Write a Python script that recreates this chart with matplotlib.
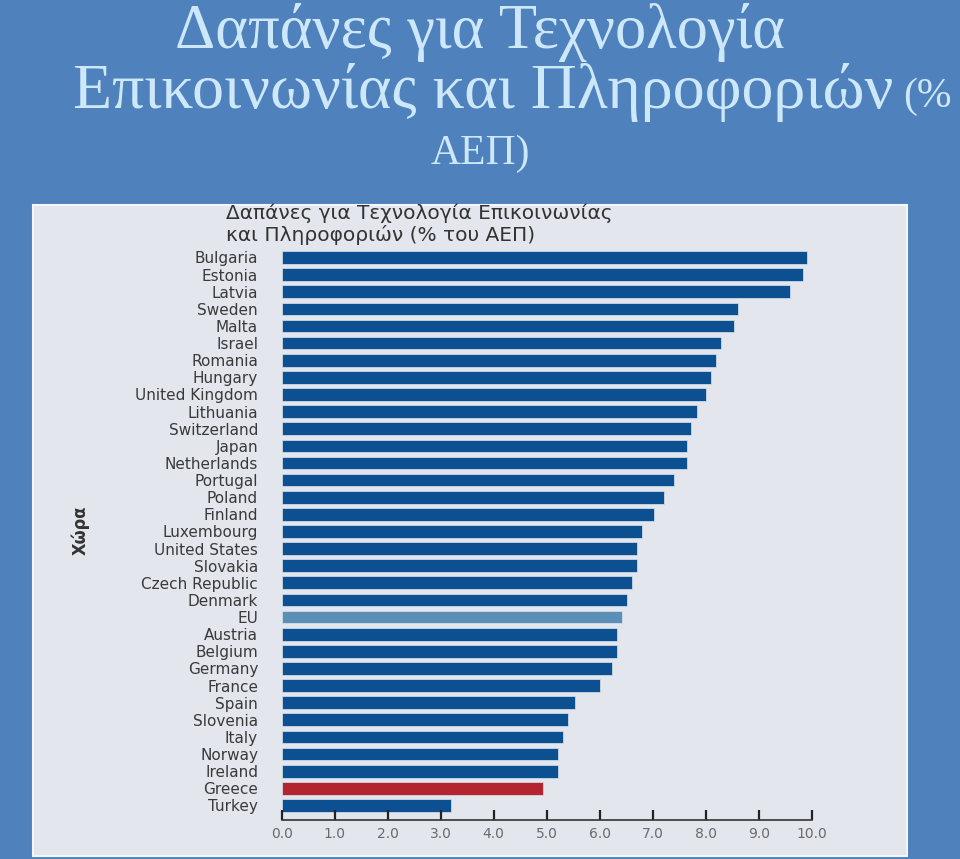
#!/usr/bin/env python3
"""ICT spending as % of GDP, horizontal bar chart on a slide-style background."""

import matplotlib

matplotlib.use("Agg")
import matplotlib.pyplot as plt
from matplotlib.patches import Rectangle

COUNTRIES = [
    "Bulgaria", "Estonia", "Latvia", "Sweden", "Malta", "Israel", "Romania",
    "Hungary", "United Kingdom", "Lithuania", "Switzerland", "Japan",
    "Netherlands", "Portugal", "Poland", "Finland", "Luxembourg",
    "United States", "Slovakia", "Czech Republic", "Denmark", "EU", "Austria",
    "Belgium", "Germany", "France", "Spain", "Slovenia", "Italy", "Norway",
    "Ireland", "Greece", "Turkey",
]
VALUES = [
    9.92, 9.83, 9.59, 8.61, 8.53, 8.29, 8.20, 8.10, 8.01, 7.83, 7.73, 7.64,
    7.64, 7.40, 7.21, 7.03, 6.80, 6.70, 6.70, 6.61, 6.52, 6.42, 6.33, 6.33,
    6.23, 6.00, 5.53, 5.40, 5.31, 5.21, 5.21, 4.93, 3.20,
]
X_TICKS = [0, 1, 2, 3, 4, 5, 6, 7, 8, 9, 10]

SLIDE_BLUE = "#4f81bd"
PANEL = "#e3e6ec"
BAR_BLUE = "#0d5092"
HIGHLIGHT = {"EU": "#5b8fb5", "Greece": "#b3262f"}
TITLE_COLOR = "#cde8fb"

W, H = 960, 859


def fx(px: float) -> float:
    return px / W


def fy(py: float) -> float:
    return 1.0 - py / H


fig = plt.figure(figsize=(W / 100, H / 100), dpi=100, facecolor=SLIDE_BLUE)

# slide title
serif = ["Liberation Serif", "DejaVu Serif"]
fig.text(0.5, fy(32), "Δαπάνες για Τεχνολογία", ha="center", va="center",
         fontsize=45, family=serif, color=TITLE_COLOR)
fig.text(fx(893), fy(93), "Επικοινωνίας και Πληροφοριών", ha="right",
         va="center", fontsize=46, family=serif, color=TITLE_COLOR)
fig.text(fx(903), fy(97), "(%", ha="left", va="center", fontsize=30,
         family=serif, color=TITLE_COLOR)
fig.text(0.5, fy(154), "ΑΕΠ)", ha="center", va="center", fontsize=30,
         family=serif, color=TITLE_COLOR)

# light chart panel
fig.patches.append(Rectangle((fx(33), fy(856)), fx(907) - fx(33),
                             fy(205) - fy(856), transform=fig.transFigure,
                             facecolor=PANEL, edgecolor="#f4f6f9",
                             linewidth=1.5, zorder=-5))

fig.text(fx(226), fy(213), "Δαπάνες για Τεχνολογία Επικοινωνίας", ha="left",
         va="center", fontsize=14.5, color="#333333")
fig.text(fx(226), fy(235), "και Πληροφοριών (% του ΑΕΠ)", ha="left",
         va="center", fontsize=14.5, color="#333333")
fig.text(fx(80), fy(530), "Χώρα", ha="center", va="center", rotation=90,
         fontsize=13, fontweight="bold", fontstretch="condensed",
         color="#333333")

# axes: 0 -> x=281.7px, 10 -> x=811.7px; rows 17.125px apart
top_px, bottom_px = 247.2, 820.0
ax = fig.add_axes([fx(281.7), fy(bottom_px), fx(811.7) - fx(281.7),
                   (bottom_px - top_px) / H])
ax.set_zorder(2)
ax.set_facecolor("none")

positions = list(range(len(COUNTRIES)))
colors = [HIGHLIGHT.get(c, BAR_BLUE) for c in COUNTRIES]
ax.barh(positions, VALUES, height=0.74, color=colors, edgecolor="#dbe4ef",
        linewidth=0.5)

ax.set_xlim(0, 10)
ax.set_ylim(len(COUNTRIES) - 1 + 0.85, -0.6)
ax.set_yticks(positions)
ax.set_yticklabels(COUNTRIES, fontsize=11, color="#3a3a3a")
ax.tick_params(axis="y", length=0, pad=17)
ax.set_xticks(X_TICKS)
ax.set_xticklabels([f"{t:.1f}" for t in X_TICKS], fontsize=10,
                   color="#6a6a6a")
ax.tick_params(axis="x", direction="in", length=7, width=1.6,
               color="#222222", pad=5)
for side in ("top", "right", "left"):
    ax.spines[side].set_visible(False)
ax.spines["bottom"].set_color("#333333")
ax.spines["bottom"].set_linewidth(1.2)

fig.savefig("out.png", dpi=100, facecolor=SLIDE_BLUE)
